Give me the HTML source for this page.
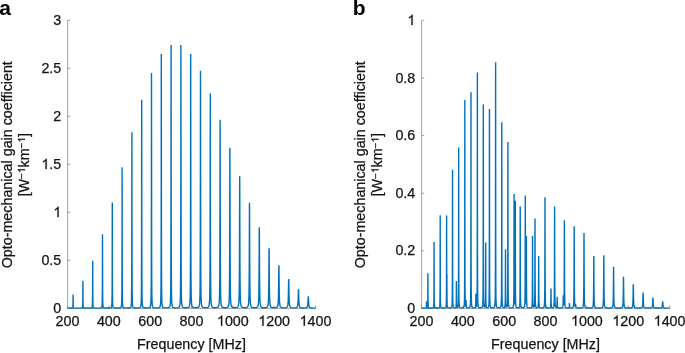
<!DOCTYPE html>
<html><head><meta charset="utf-8"><title>Opto-mechanical gain coefficient</title>
<style>
html,body{margin:0;padding:0;background:#fff;}
body{width:685px;height:353px;overflow:hidden;font-family:"Liberation Sans",sans-serif;}
svg{display:block;will-change:transform;}
svg text{font-family:"Liberation Sans",sans-serif;font-size:14.3px;fill:#141414;stroke:#141414;stroke-width:0.25px;}
svg text.pl{font-weight:bold;font-size:21px;fill:#000;stroke:none;}
svg .h{visibility:hidden;}
svg .one{fill:#141414;stroke:#141414;}
</style></head>
<body>
<svg width="685" height="353" viewBox="0 0 685 353">
<rect width="685" height="353" fill="#fff"/>
<text class="pl" x="-0.8" y="14.5">a</text>
<text class="pl" x="352.8" y="14.8">b</text>
<path d="M67.65 20.4V308.4H315.5M67.50 308.4v-3.0M108.83 308.4v-3.0M150.17 308.4v-3.0M191.50 308.4v-3.0M232.83 308.4v-3.0M274.17 308.4v-3.0M315.50 308.4v-3.0M67.65 308.40h2.6M67.65 260.40h2.6M67.65 212.40h2.6M67.65 164.40h2.6M67.65 116.40h2.6M67.65 68.40h2.6M67.65 20.40h2.6" fill="none" stroke="#8a8a8a" stroke-width="0.8"/>
<text id="t1" x="67.50" y="325.7" text-anchor="middle">200</text>
<text id="t2" x="108.83" y="325.7" text-anchor="middle">400</text>
<text id="t3" x="150.17" y="325.7" text-anchor="middle">600</text>
<text id="t4" x="191.50" y="325.7" text-anchor="middle">800</text>
<text id="t5" x="232.83" y="325.7" text-anchor="middle"><tspan class="h">1</tspan>000</text>
<text id="t6" x="274.17" y="325.7" text-anchor="middle"><tspan class="h">1</tspan>200</text>
<text id="t7" x="315.50" y="325.7" text-anchor="middle"><tspan class="h">1</tspan>400</text>
<text id="t8" x="61.30" y="313.00" text-anchor="end">0</text>
<text id="t9" x="61.30" y="265.00" text-anchor="end">0.5</text>
<text id="t10" x="61.30" y="217.00" text-anchor="end"><tspan class="h">1</tspan></text>
<text id="t11" x="61.30" y="169.00" text-anchor="end"><tspan class="h">1</tspan>.5</text>
<text id="t12" x="61.30" y="121.00" text-anchor="end">2</text>
<text id="t13" x="61.30" y="73.00" text-anchor="end">2.5</text>
<text id="t14" x="61.30" y="25.00" text-anchor="end">3</text>
<text id="t15" x="191.50" y="349.1" text-anchor="middle">Frequency [MHz]</text>
<g transform="translate(11.60 164.75) rotate(-90)"><text id="t16" text-anchor="middle">Opto-mechanical gain coefficient</text></g>
<g transform="translate(28.50 164.7) rotate(-90)"><text id="t17" text-anchor="middle">[W<tspan font-size="10.0" dy="-3.5">−<tspan class="h">1</tspan></tspan><tspan dy="3.5">km</tspan><tspan font-size="10.0" dy="-3.5">−<tspan class="h">1</tspan></tspan><tspan dy="3.5">]</tspan></text></g>
<path d="M67.5 308.14L72 308.07L72.25 308.02L72.55 307.86L72.75 307.46L72.88 306.55L72.96 304.78L73 302.81L73.02 301.32L73.06 297.22L73.1 294.49L73.14 297.22L73.18 301.32L73.24 304.78L73.32 306.55L73.45 307.46L73.5 307.62L73.65 307.86L74 308.03L81 308.09L81.6 308.04L82.05 307.9L82.35 307.57L82.5 307.09L82.55 306.78L82.68 304.94L82.76 301.4L82.82 294.45L82.86 286.24L82.9 280.77L82.94 286.24L82.98 294.45L83 297.45L83.04 301.4L83.12 304.94L83.25 306.78L83.45 307.57L83.5 307.66L83.75 307.9L84.2 308.03L91 308.03L91.5 307.92L91.85 307.72L92 307.52L92.15 307.15L92.35 305.77L92.48 302.58L92.5 301.57L92.56 296.43L92.62 284.38L92.66 270.17L92.7 260.72L92.74 270.17L92.78 284.38L92.84 296.43L92.92 302.58L93 304.97L93.05 305.77L93.25 307.15L93.5 307.66L94 307.95L99.5 308.08L100.5 308.01L101.2 307.85L101.5 307.65L101.65 307.47L101.95 306.58L102 306.26L102.15 304.41L102.28 299.38L102.36 289.73L102.42 270.88L102.46 248.78L102.5 234.14L102.54 248.78L102.58 270.88L102.64 289.73L102.72 299.38L102.85 304.41L103 306.26L103.05 306.57L103.35 307.47L103.5 307.65L103.8 307.84L104.5 308L109.5 308.03L110.5 307.91L111 307.71L111.45 307.16L111.5 307.04L111.75 305.86L111.95 302.71L112 300.89L112.08 295.42L112.16 281.46L112.22 254.41L112.26 223L112.3 202.39L112.34 223L112.38 254.41L112.44 281.46L112.5 293.13L112.52 295.42L112.65 302.71L112.85 305.86L113 306.71L113.15 307.16L113.5 307.64L114 307.88L115.5 308.04L119.5 307.97L120.1 307.88L120.5 307.74L120.8 307.55L121 307.33L121.25 306.8L121.5 305.5L121.55 305.01L121.75 300.7L121.88 290.74L121.96 271.79L122 251.05L122.02 235.5L122.06 194.06L122.1 167.27L122.14 194.06L122.18 235.5L122.24 271.79L122.32 290.74L122.45 300.69L122.5 302.36L122.65 305.01L122.95 306.8L123 306.94L123.4 307.55L124.1 307.87L127.5 308.03L129 307.95L130 307.76L130.5 307.47L130.6 307.37L131 306.58L131.05 306.39L131.35 304.07L131.5 300.62L131.55 298.45L131.68 285.57L131.76 261.28L131.82 215.55L131.86 164.6L131.9 132.35L131.94 164.6L131.98 215.55L132 235.02L132.04 261.28L132.12 285.57L132.25 298.45L132.45 304.06L132.5 304.7L132.75 306.39L133 307.07L133.2 307.36L133.5 307.61L134 307.81L135.5 307.99L138.7 307.92L139.7 307.7L140 307.55L140.4 307.17L140.5 307.01L140.85 305.94L141 304.93L141.15 303.01L141.35 295.98L141.48 279.93L141.5 274.96L141.56 250.07L141.62 195.21L141.66 136.05L141.7 99.64L141.74 136.05L141.78 195.21L141.84 250.07L141.92 279.93L142 291.94L142.05 295.98L142.25 303.01L142.5 305.66L142.55 305.93L143 307.16L143.5 307.6L144 307.79L145.5 307.96L148 307.92L149 307.78L149.5 307.61L150 307.24L150.2 306.96L150.5 306.18L150.65 305.46L150.95 301.91L151 300.65L151.15 293.39L151.28 274.14L151.36 238.93L151.42 176.26L151.46 111.48L151.5 72.96L151.54 111.48L151.58 176.26L151.64 238.93L151.72 274.14L151.85 293.39L152 300.65L152.05 301.9L152.35 305.45L152.5 306.18L152.8 306.95L153 307.23L153.5 307.6L154 307.76L155.5 307.92L157.5 307.9L158.5 307.78L159 307.64L159.5 307.37L160 306.73L160.45 304.96L160.5 304.56L160.75 300.75L160.95 290.72L161 285.02L161.08 268.3L161.16 228.23L161.22 159.7L161.26 92.39L161.3 53.96L161.34 92.39L161.38 159.7L161.44 228.23L161.5 261.48L161.52 268.3L161.65 290.72L161.85 300.75L162 303.5L162.15 304.95L162.5 306.5L162.6 306.73L163 307.28L163.5 307.59L164.5 307.82L167 307.88L168.1 307.76L168.5 307.67L169.1 307.4L169.5 307.03L169.8 306.51L170 305.9L170.25 304.46L170.5 300.92L170.55 299.6L170.75 288.11L170.88 262.82L170.96 218.87L171 176.16L171.02 147.3L171.06 81.07L171.1 44.93L171.14 81.07L171.18 147.3L171.24 218.87L171.32 262.82L171.45 288.11L171.5 292.51L171.65 299.6L171.95 304.45L172 304.84L172.4 306.5L172.5 306.72L173 307.32L173.5 307.59L174.5 307.8L176.5 307.85L178 307.68L178.5 307.53L179 307.22L179.5 306.53L179.6 306.28L180 304.39L180.05 303.95L180.35 298.47L180.5 290.5L180.55 285.58L180.68 257.75L180.76 211.07L180.82 139.32L180.86 77.21L180.9 44.92L180.94 77.21L180.98 139.32L181 167.65L181.04 211.07L181.12 257.75L181.25 285.58L181.45 298.46L181.5 299.95L181.75 303.95L182 305.58L182.2 306.28L182.5 306.87L183 307.36L183.5 307.59L184.5 307.78L186.5 307.81L187.7 307.65L188 307.57L188.5 307.35L188.7 307.2L189 306.88L189.4 306.07L189.5 305.73L189.85 303.48L190 301.37L190.15 297.41L190.35 283.29L190.48 253.53L190.5 244.93L190.56 205.7L190.62 136.86L190.66 81.44L190.7 54.02L190.74 81.44L190.78 136.86L190.84 205.7L190.92 253.53L191 275.5L191.05 283.29L191.25 297.4L191.5 302.9L191.55 303.48L192 306.07L192.5 307L192.7 307.19L193 307.39L193.7 307.64L195 307.79L196.5 307.76L197.5 307.61L198 307.44L198.5 307.11L199 306.41L199.2 305.88L199.5 304.41L199.65 303.05L199.95 296.47L200 294.19L200.15 281.39L200.28 250.49L200.36 203.27L200.42 140.13L200.46 93L200.5 70.8L200.54 93L200.58 140.13L200.64 203.27L200.72 250.49L200.85 281.39L201 294.18L201.05 296.47L201.35 303.05L201.5 304.41L201.8 305.87L202 306.4L202.5 307.11L203 307.43L203.5 307.6L204.5 307.74L206 307.75L207.5 307.51L208 307.27L208.3 307.04L208.5 306.81L209 305.72L209.45 302.7L209.5 302.03L209.75 295.73L209.95 280L210 271.6L210.08 248.91L210.16 204.08L210.22 148.71L210.26 110.44L210.3 93.24L210.34 110.44L210.38 148.71L210.44 204.08L210.5 240.4L210.52 248.91L210.65 280L210.85 295.72L211 300.26L211.15 302.7L211.5 305.32L211.6 305.71L212 306.66L212.3 307.03L212.5 307.2L213 307.46L213.5 307.61L215 307.75L216.5 307.66L217.1 307.54L217.5 307.39L218.1 306.98L218.5 306.41L218.8 305.6L219 304.66L219.25 302.46L219.5 297.18L219.55 295.26L219.75 279.36L219.88 249.19L219.96 208.46L220 178.6L220.02 162.2L220.06 132.56L220.1 119.8L220.14 132.56L220.18 162.2L220.24 208.46L220.32 249.19L220.45 279.36L220.5 285.26L220.65 295.26L220.95 302.46L221 303.04L221.4 305.6L221.5 305.93L222 306.87L222.5 307.29L223.1 307.53L224 307.69L225.5 307.72L226.5 307.62L227 307.49L227.5 307.27L228 306.84L228.5 305.88L228.6 305.54L229 302.94L229.05 302.35L229.35 295.11L229.5 285.24L229.55 279.51L229.68 251.33L229.76 215.95L229.82 179.08L229.86 157.09L229.9 148L229.94 157.09L229.98 179.08L230 191.77L230.04 215.95L230.12 251.33L230.25 279.51L230.45 295.11L230.5 297.03L230.75 302.35L231 304.58L231.2 305.54L231.5 306.37L231.9 306.95L232.5 307.37L233 307.55L234 307.7L235.5 307.71L236.7 307.52L237 307.42L237.5 307.14L237.7 306.96L238 306.56L238.4 305.55L238.5 305.13L238.85 302.4L239 299.89L239.15 295.34L239.35 280.59L239.48 255.37L239.5 249.25L239.56 226.12L239.62 198.12L239.66 182.53L239.7 176.3L239.74 182.53L239.78 198.12L239.84 226.12L239.92 255.37L240 273.29L240.05 280.59L240.25 295.34L240.5 301.71L240.55 302.4L241 305.55L241.5 306.72L241.7 306.96L242 307.21L242.7 307.52L243.5 307.68L245 307.73L246 307.64L246.5 307.54L247 307.35L247.5 306.99L248 306.22L248.2 305.63L248.5 304.05L248.65 302.61L248.95 295.95L249 293.76L249.15 282.51L249.28 260.93L249.36 237.89L249.42 217.61L249.46 206.99L249.5 202.87L249.54 206.99L249.58 217.61L249.64 237.89L249.72 260.93L249.85 282.51L250 293.76L250.05 295.95L250.35 302.61L250.5 304.05L250.8 305.64L251 306.22L251.5 307L252 307.35L252.5 307.54L253.5 307.72L255 307.74L256.5 307.51L257 307.29L257.3 307.06L257.5 306.84L258 305.8L258.45 303.01L258.5 302.41L258.75 296.99L258.95 285.34L259 279.99L259.08 267.88L259.16 250.76L259.22 236.84L259.26 229.94L259.3 227.33L259.34 229.94L259.38 236.84L259.44 250.76L259.5 264.05L259.52 267.88L259.65 285.34L259.85 297L260 300.84L260.15 303.01L260.5 305.43L260.6 305.81L261 306.71L261.3 307.07L261.5 307.23L262 307.49L263 307.72L264.5 307.79L265.5 307.72L266.1 307.62L266.5 307.51L267.1 307.17L267.5 306.7L267.8 306.04L268 305.28L268.25 303.56L268.5 299.69L268.55 298.36L268.75 288.73L268.88 275.36L268.96 263.31L269 257.05L269.02 254.23L269.06 249.94L269.1 248.35L269.14 249.94L269.18 254.23L269.24 263.32L269.32 275.36L269.45 288.73L269.5 292.05L269.65 298.36L269.95 303.57L270 304.02L270.4 306.04L270.5 306.31L271 307.09L271.5 307.43L272.1 307.64L273.5 307.81L275 307.8L276 307.67L276.5 307.51L277 307.21L277.5 306.54L277.6 306.31L278 304.58L278.05 304.2L278.35 299.88L278.5 294.85L278.55 292.3L278.68 282.57L278.76 274.52L278.82 268.84L278.86 266.27L278.9 265.34L278.94 266.27L278.98 268.85L279 270.58L279.04 274.52L279.12 282.57L279.25 292.3L279.45 299.88L279.5 300.97L279.75 304.21L280 305.67L280.2 306.32L280.5 306.89L281 307.37L281.5 307.6L282.5 307.8L284.5 307.87L286 307.7L286.7 307.44L287 307.21L287.4 306.64L287.5 306.4L287.85 304.94L288 303.68L288.15 301.57L288.35 295.99L288.48 289.4L288.56 284.38L288.62 281.05L288.66 279.59L288.7 279.07L288.74 279.59L288.78 281.05L288.84 284.38L288.92 289.41L289 293.78L289.05 295.99L289.25 301.57L289.5 304.59L289.55 304.94L290 306.65L290.5 307.31L291 307.6L292 307.83L294.5 307.91L295.5 307.84L296 307.75L296.5 307.58L297 307.23L297.2 306.96L297.5 306.27L297.65 305.66L297.95 303.18L298 302.46L298.15 299.32L298.28 295.14L298.36 292.18L298.42 290.32L298.46 289.53L298.5 289.25L298.54 289.53L298.58 290.32L298.64 292.18L298.72 295.14L298.85 299.33L299 302.46L299.05 303.18L299.35 305.67L299.5 306.28L299.8 306.97L300 307.24L300.5 307.6L301 307.77L302.5 307.95L305.5 307.9L306.3 307.73L306.5 307.65L307 307.27L307.45 306.33L307.5 306.15L307.75 304.62L307.95 302.12L308 301.24L308.16 298L308.22 297.02L308.26 296.61L308.3 296.47L308.34 296.61L308.38 297.02L308.44 298L308.52 299.64L308.65 302.13L308.85 304.62L309 305.68L309.15 306.34L309.5 307.15L309.6 307.29L310 307.62L310.5 307.82L312 308.01L315.5 308.1" fill="none" stroke="#0072BD" stroke-width="1.4" stroke-linejoin="bevel"/>
<path d="M421.65 20.4V308.4H669.6M421.50 308.4v-3.0M462.85 308.4v-3.0M504.20 308.4v-3.0M545.55 308.4v-3.0M586.90 308.4v-3.0M628.25 308.4v-3.0M669.60 308.4v-3.0M421.65 308.40h2.6M421.65 250.80h2.6M421.65 193.20h2.6M421.65 135.60h2.6M421.65 78.00h2.6M421.65 20.40h2.6" fill="none" stroke="#8a8a8a" stroke-width="0.8"/>
<text id="t18" x="421.50" y="325.7" text-anchor="middle">200</text>
<text id="t19" x="462.85" y="325.7" text-anchor="middle">400</text>
<text id="t20" x="504.20" y="325.7" text-anchor="middle">600</text>
<text id="t21" x="545.55" y="325.7" text-anchor="middle">800</text>
<text id="t22" x="586.90" y="325.7" text-anchor="middle"><tspan class="h">1</tspan>000</text>
<text id="t23" x="628.25" y="325.7" text-anchor="middle"><tspan class="h">1</tspan>200</text>
<text id="t24" x="669.60" y="325.7" text-anchor="middle"><tspan class="h">1</tspan>400</text>
<text id="t25" x="415.30" y="313.00" text-anchor="end">0</text>
<text id="t26" x="415.30" y="255.40" text-anchor="end">0.2</text>
<text id="t27" x="415.30" y="197.80" text-anchor="end">0.4</text>
<text id="t28" x="415.30" y="140.20" text-anchor="end">0.6</text>
<text id="t29" x="415.30" y="82.60" text-anchor="end">0.8</text>
<text id="t30" x="415.30" y="25.00" text-anchor="end"><tspan class="h">1</tspan></text>
<text id="t31" x="545.55" y="349.1" text-anchor="middle">Frequency [MHz]</text>
<g transform="translate(365.10 164.75) rotate(-90)"><text id="t32" text-anchor="middle">Opto-mechanical gain coefficient</text></g>
<g transform="translate(382.00 164.7) rotate(-90)"><text id="t33" text-anchor="middle">[W<tspan font-size="10.0" dy="-3.5">−<tspan class="h">1</tspan></tspan><tspan dy="3.5">km</tspan><tspan font-size="10.0" dy="-3.5">−<tspan class="h">1</tspan></tspan><tspan dy="3.5">]</tspan></text></g>
<path d="M421.5 308.13L425.65 308.06L426 307.96L426.15 307.82L426.28 307.44L426.36 306.69L426.42 305.09L426.46 302.89L426.5 301.2L426.54 302.88L426.58 305.07L426.6 305.78L426.64 306.66L426.72 307.38L426.85 307.72L427.05 307.79L427.35 307.53L427.5 307.07L427.55 306.76L427.68 304.91L427.76 301.16L427.8 296.68L427.82 293.04L427.86 281.91L427.9 273.36L427.94 281.91L427.98 293.04L428 296.68L428.04 301.16L428.12 304.92L428.25 306.78L428.45 307.56L428.5 307.65L428.75 307.89L429.2 308.02L432.06 308.04L432.75 307.93L433 307.83L433.2 307.68L433.5 307.07L433.7 305.57L433.83 302.04L433.92 294.89L433.98 279.43L434 267.22L434.01 258.26L434.06 242L434.1 258.26L434.13 279.43L434.19 294.88L434.27 302.03L434.4 305.57L434.5 306.52L434.61 307.06L434.9 307.67L435.2 307.86L436.15 308L436.28 307.96L436.36 307.88L436.42 307.69L436.5 307.24L436.58 307.7L436.64 307.89L436.72 307.97L438.21 307.99L439 307.8L439.36 307.48L439.5 307.21L439.66 306.63L439.86 304.53L439.99 299.55L440 298.8L440.07 289.49L440.13 267.77L440.17 238.04L440.21 215.23L440.25 238.04L440.29 267.77L440.35 289.49L440.43 299.55L440.5 302.98L440.56 304.53L440.76 306.62L441 307.38L441.06 307.48L441.51 307.83L442.5 308L444.62 307.96L445.31 307.78L445.6 307.58L445.76 307.38L446 306.76L446.06 306.44L446.26 304.24L446.35 301.68L446.39 299.15L446.48 289.07L446.5 282.56L446.54 267.52L446.55 258.04L446.57 238.21L446.62 215.6L446.65 237.32L446.68 256.51L446.69 265.55L446.75 284.42L446.76 285.11L446.82 286.17L446.83 284.37L446.86 279.73L446.9 274.47L446.94 282.57L446.96 289.26L446.98 292.47L447 295.77L447.04 299.96L447.12 303.74L447.17 304.77L447.25 305.89L447.45 307L447.5 307.14L447.75 307.55L448 307.74L448.62 307.91L450 307.95L450.52 307.9L451 307.78L451.22 307.67L451.5 307.42L451.67 307.14L451.97 305.85L452 305.59L452.17 302.69L452.3 295.21L452.38 280.11L452.44 247.64L452.48 203.45L452.5 180.05L452.52 169.73L452.56 203.45L452.6 247.63L452.66 280.11L452.74 295.2L452.87 302.69L453 305.16L453.07 305.84L453.37 307.12L453.5 307.36L453.82 307.65L454.52 307.86L455.1 307.87L455.55 307.77L455.68 307.7L455.85 307.51L456 307.13L456.05 306.88L456.18 305.41L456.26 302.44L456.32 296.09L456.36 287.48L456.4 280.92L456.44 287.47L456.48 296.07L456.5 298.91L456.54 302.41L456.62 305.35L456.68 306.2L456.75 306.8L456.95 307.36L457 307.42L457.25 307.5L457.5 307.39L457.7 307.16L457.82 306.91L458 306.28L458.12 305.42L458.32 301.73L458.4 298.07L458.45 292.98L458.5 285.47L458.54 275.36L458.6 237.55L458.63 186.38L458.68 147.55L458.71 186.38L458.75 237.55L458.81 275.36L458.89 292.99L459 300.78L459.02 301.75L459.23 305.44L459.4 306.54L459.52 306.95L460 307.6L460.68 307.84L462 307.9L463.1 307.7L463.53 307.44L463.98 306.61L464.1 306.1L464.28 304.62L464.48 299.77L464.5 298.78L464.61 288.3L464.69 265.24L464.75 216.01L464.79 149.88L464.8 131.36L464.83 100.07L464.87 149.87L464.91 216L464.97 265.23L465 276.94L465.05 288.28L465.18 299.74L465.25 302.19L465.38 304.56L465.5 305.63L465.55 305.92L465.68 306.4L465.75 306.53L465.88 306.4L465.96 305.7L466 304.79L466.02 304.03L466.06 301.72L466.1 299.99L466.13 301.13L466.14 301.8L466.18 304.19L466.24 305.99L466.32 306.87L466.45 307.35L466.65 307.6L467 307.76L468.1 307.86L469.1 307.73L469.5 307.54L469.69 307.39L470 306.91L470.13 306.52L470.44 304.43L470.5 303.42L470.63 299.32L470.76 287.23L470.85 263.02L470.9 211.65L470.94 143.29L470.99 92.31L471 101.3L471.02 143.29L471.06 211.65L471.12 263.02L471.2 287.23L471.33 299.32L471.5 303.93L471.54 304.43L471.83 306.52L472 306.97L472.29 307.39L472.5 307.56L473 307.75L474 307.85L474.6 307.81L475.05 307.7L475.39 307.46L475.5 307.26L475.55 307.11L475.68 306.27L475.76 304.67L475.82 301.34L475.86 296.97L475.9 293.74L475.94 296.91L475.98 301.22L476 302.67L476.04 304.46L476.09 305.57L476.12 305.93L476.25 306.53L476.45 306.42L476.54 306.17L476.75 304.95L476.84 303.92L477 300.07L477.04 298.24L477.17 284.79L477.2 277.89L477.25 257.93L477.31 201.38L477.35 127.11L477.39 72.42L477.43 127.12L477.47 201.39L477.5 236.34L477.53 257.94L477.61 284.81L477.74 298.28L477.9 303.34L477.94 303.98L478 304.73L478.24 306.32L478.5 307.02L478.69 307.29L479 307.54L479.5 307.73L480.5 307.81L481.5 307.66L482 307.35L482.44 306.49L482.5 306.28L482.7 304.93L482.75 304.42L482.94 299.36L483 296.05L483.07 287.47L483.15 263.85L483.21 214.61L483.25 150.88L483.3 104.61L483.33 150.88L483.38 214.61L483.44 263.84L483.5 284.69L483.51 287.45L483.64 299.33L483.7 301.44L483.85 304.36L484 305.72L484.14 306.38L484.4 306.93L484.6 307.1L484.85 307.09L485 306.93L485.15 306.55L485.3 305.63L485.35 304.96L485.48 301.13L485.5 299.91L485.56 293.51L485.62 277.65L485.66 257.27L485.7 242.57L485.74 257.28L485.78 277.67L485.84 293.54L485.92 301.19L486 304.09L486.05 305.05L486.25 306.69L486.3 306.86L486.45 307.23L486.55 307.36L487 307.61L487.5 307.62L488 307.44L488.15 307.32L488.5 306.77L488.6 306.47L488.7 306.04L488.9 304.39L489 302.64L489.1 299.29L489.23 287.33L489.31 263.7L489.37 215L489.41 153.11L489.45 108.96L489.49 153.11L489.5 170.29L489.53 215L489.59 263.7L489.67 287.33L489.8 299.3L490 304.4L490.3 306.49L490.5 307.01L490.75 307.36L491 307.55L491.5 307.74L492.61 307.82L493.61 307.67L494 307.48L494.31 307.2L494.5 306.87L494.75 306.08L495 304.19L495.06 303.4L495.25 296.88L495.38 281.61L495.46 251.68L495.5 223.01L495.52 190.87L495.56 115.23L495.61 62.37L495.64 115.23L495.69 190.87L495.75 251.68L495.82 281.61L495.95 296.88L496 299.19L496.15 303.4L496.45 306.08L496.5 306.27L496.9 307.19L497 307.3L497.61 307.67L499 307.82L499.76 307.72L500 307.64L500.5 307.31L500.91 306.47L501 306.08L501.21 304.35L501.41 299.21L501.5 292.64L501.54 287.21L501.62 263.9L501.68 217.31L501.72 160.79L501.76 122.2L501.8 160.79L501.84 217.31L501.9 263.89L501.98 287.21L502 290.21L502.11 299.2L502.31 304.34L502.5 305.96L502.61 306.45L503 307.25L503.5 307.57L504 307.63L504.2 307.61L504.5 307.48L504.65 307.35L504.76 307.19L504.92 306.8L505 306.42L505.15 304.99L505.28 301.1L505.36 293.6L505.42 278.77L505.46 261.09L505.5 249.19L505.54 261.08L505.58 278.75L505.64 293.56L505.72 301.05L505.85 304.91L505.92 305.69L506 306.3L506.05 306.53L506.35 307.1L506.5 307.14L506.62 307.12L506.8 306.97L507 306.62L507.06 306.44L507.37 304.49L507.5 301.99L507.56 299.7L507.69 288.53L507.77 267.02L507.83 224.85L507.88 175.12L507.92 142.02L507.95 175.12L508 224.86L508 229.89L508.06 267.03L508.13 288.55L508.26 299.74L508.46 304.56L508.5 304.95L508.76 306.55L509 307.12L509.21 307.39L509.5 307.59L510 307.76L511.07 307.86L512.07 307.77L512.5 307.64L512.77 307.48L513 307.24L513.22 306.83L513.3 306.58L513.5 305.5L513.52 305.33L513.72 301.79L513.85 293.72L513.93 278.41L513.99 249.11L514 241.6L514.03 215.64L514.07 193.98L514.11 215.58L514.15 248.98L514.21 278.18L514.29 293.35L514.42 301.15L514.45 301.94L514.5 302.9L514.62 304L514.75 304.04L514.92 302.15L514.95 301.39L515 299.59L515.08 294.02L515.16 279.68L515.22 252.19L515.26 220.94L515.3 200.86L515.34 221.01L515.37 245.27L515.38 252.32L515.44 279.91L515.5 292.01L515.52 294.4L515.65 302.07L515.85 305.43L516 306.36L516.07 306.63L516.15 306.86L516.5 307.4L517.07 307.7L517.5 307.77L518.5 307.73L519 307.51L519.38 307L519.5 306.63L519.67 305.64L519.88 302.35L520 295.31L520 294.8L520.09 280.62L520.14 254.12L520.18 224.87L520.23 206.5L520.26 224.87L520.3 254.12L520.37 280.62L520.45 294.8L520.5 299.14L520.58 302.35L520.77 305.64L521 306.8L521.08 307L521.52 307.57L522 307.75L522.5 307.8L523.5 307.69L524 307.44L524.38 306.91L524.5 306.57L524.75 305.08L524.95 301.18L525 298.97L525.08 292.4L525.16 276.15L525.22 246.52L525.26 214.83L525.3 195.43L525.34 214.76L525.38 246.38L525.44 275.9L525.5 289.31L525.52 291.99L525.53 293.11L525.65 300.44L525.83 303.3L525.85 303.38L526 302.7L526.03 302.23L526.15 297.76L526.16 297.06L526.24 286.87L526.3 268.13L526.34 248.16L526.38 236.04L526.42 248.27L526.46 268.35L526.5 282.49L526.52 287.26L526.6 297.7L526.73 303.4L526.93 305.96L527 306.36L527.23 307.08L527.5 307.45L527.68 307.59L528 307.73L528.5 307.85L530 307.9L530.53 307.86L531 307.75L531.24 307.65L531.5 307.45L531.68 307.17L531.99 306.05L532 305.94L532.18 303.38L532.32 297.36L532.39 286.44L532.46 267.21L532.5 247.61L532.5 245.25L532.53 236.07L532.58 247.6L532.62 267.2L532.67 286.42L532.75 297.32L532.88 303.31L533 305.2L533.09 305.93L533.38 306.96L533.5 307.09L533.7 307.18L533.84 307.16L534 307.03L534.15 306.79L534.45 305.42L534.5 304.93L534.53 304.48L534.65 302.04L534.78 294.4L534.86 280.59L534.92 256.58L534.96 232.5L535 218.54L535.04 232.51L535.08 256.59L535.14 280.6L535.22 294.43L535.35 302.09L535.5 305L535.55 305.5L535.69 306.39L535.85 306.93L536 307.22L536.3 307.52L536.69 307.68L537 307.71L537.5 307.62L537.84 307.33L538 307.02L538.14 306.48L538.34 304.42L538.47 299.79L538.5 297.56L538.55 291.54L538.61 277.5L538.65 263.79L538.69 256L538.73 263.79L538.77 277.51L538.83 291.55L538.91 299.81L539 303.54L539.04 304.44L539.24 306.51L539.5 307.32L540 307.76L540.69 307.91L542 307.93L543 307.8L543.5 307.59L543.7 307.44L544 307L544.15 306.59L544.45 304.57L544.5 303.86L544.65 299.79L544.78 289.25L544.86 270.88L544.92 240.79L544.96 212.74L545 197.37L545.04 212.74L545.08 240.79L545.14 270.88L545.22 289.25L545.35 299.79L545.5 303.86L545.55 304.57L545.85 306.59L546 307L546.3 307.44L546.5 307.6L547 307.81L548 307.94L549.7 307.9L550.15 307.73L550.45 307.34L550.5 307.2L550.65 306.42L550.78 304.44L550.86 301.06L550.92 295.74L550.96 291L551 288.49L551.04 291L551.08 295.73L551.14 301.04L551.22 304.42L551.35 306.39L551.5 307.16L551.6 307.39L551.85 307.65L552.3 307.75L552.6 307.72L553 307.59L553.3 307.37L553.5 307.11L553.75 306.48L554 304.94L554.05 304.36L554.15 302.51L554.25 299.38L554.38 288.63L554.46 270.61L554.5 253.86L554.52 242.93L554.56 218.99L554.6 206.55L554.64 218.99L554.68 242.93L554.74 270.61L554.82 288.63L554.95 299.38L555 301.28L555.15 304.35L555.45 306.46L555.5 306.63L555.86 307.28L556 307.4L556.3 307.51L556.5 307.47L556.61 307.38L556.8 306.86L556.93 305.67L557 304.19L557.01 303.67L557.08 300.64L557.12 298.07L557.15 296.75L557.2 298.08L557.24 300.66L557.29 303.71L557.38 305.73L557.5 306.96L557.6 307.33L557.71 307.54L558 307.8L558.5 307.93L560.5 307.98L561.5 307.9L562.01 307.8L562.5 307.54L562.76 307.17L562.96 306.39L563 306.09L563.09 304.91L563.1 304.71L563.17 302.61L563.23 299.35L563.27 296.72L563.31 295.38L563.35 296.58L563.39 299.06L563.45 302.1L563.5 303.53L563.53 304.06L563.55 304.31L563.66 304.86L563.85 303.87L563.86 303.75L564 301L564.05 299.16L564.16 291.32L564.18 288.86L564.26 272.28L564.32 248.56L564.36 229.6L564.4 220.27L564.44 229.62L564.48 248.6L564.5 257.73L564.54 272.35L564.61 287.54L564.62 288.97L564.75 299.37L564.95 304.32L565 304.89L565.25 306.46L565.31 306.66L565.5 307.1L565.7 307.38L566 307.62L566.5 307.81L567.5 307.94L568.62 307.91L568.91 307.79L569 307.71L569.12 307.5L569.25 306.9L569.33 305.95L569.38 304.66L569.42 303.66L569.47 303.19L569.5 303.56L569.54 304.66L569.61 305.95L569.68 306.89L569.82 307.5L570.01 307.79L570.32 307.9L571.5 307.9L572.2 307.76L572.62 307.57L572.9 307.33L573 307.2L573.35 306.33L573.5 305.52L573.62 304.4L573.65 304L573.85 298.69L573.98 287.85L574 284.81L574.06 271.42L574.12 249.69L574.16 233.64L574.2 226.13L574.24 233.63L574.28 249.68L574.32 265.11L574.34 271.41L574.42 287.83L574.5 295.78L574.55 298.66L574.75 303.95L574.77 304.21L575 305.98L575.07 306.25L575.27 306.58L575.4 306.36L575.48 305.78L575.5 305.54L575.58 304.34L575.62 304.07L575.66 304.41L575.7 305.09L575.76 306.03L575.84 306.77L575.97 307.29L576.2 307.62L576.5 307.78L577.62 307.97L580.5 307.98L581.5 307.87L582 307.75L582.5 307.48L582.7 307.28L583 306.71L583.15 306.19L583.45 303.7L583.5 302.84L583.65 298.08L583.78 287.04L583.86 271.28L583.92 252.06L583.96 238.93L584 233.07L584.04 238.93L584.08 252.06L584.14 271.28L584.22 287.04L584.35 298.08L584.5 302.84L584.55 303.7L584.85 306.2L585 306.72L585.3 307.28L585.5 307.48L586 307.75L587 307.94L591 307.95L592 307.74L592.5 307.42L592.95 306.53L593 306.33L593.25 304.49L593.45 300L593.5 297.66L593.58 291.54L593.66 280.24L593.72 267.56L593.76 259.52L593.8 256.09L593.84 259.52L593.88 267.56L593.94 280.24L594 289.32L594.02 291.54L594.15 300L594.35 304.49L594.5 305.81L594.65 306.53L595 307.3L595.1 307.42L595.5 307.7L596 307.86L599 308.02L601 307.92L601.8 307.75L602 307.67L602.5 307.27L602.95 306.18L603 305.95L603.25 303.73L603.45 298.47L603.5 295.8L603.58 289.04L603.66 277.33L603.72 265.27L603.76 258.15L603.8 255.23L603.84 258.15L603.88 265.27L603.94 277.33L604 286.66L604.02 289.04L604.15 298.47L604.35 303.73L604.5 305.32L604.65 306.18L605 307.12L605.1 307.27L605.5 307.61L606 307.81L607.5 307.99L610.6 307.95L611.6 307.77L612 307.58L612.3 307.32L612.5 307.01L612.75 306.31L613 304.64L613.05 304.05L613.25 299.35L613.38 291.36L613.46 282.18L613.52 273.47L613.56 268.65L613.6 266.74L613.64 268.65L613.68 273.47L613.74 282.18L613.82 291.36L613.95 299.35L614 301.05L614.15 304.05L614.45 306.31L614.5 306.49L614.9 307.32L615 307.43L615.6 307.77L616.6 307.95L620 307.99L621 307.91L621.5 307.8L622 307.56L622.2 307.39L622.5 306.91L622.65 306.47L622.95 304.45L623 303.79L623.15 300.4L623.28 293.92L623.36 287.04L623.42 281.02L623.46 277.88L623.5 276.67L623.54 277.88L623.58 281.02L623.64 287.04L623.72 293.92L623.85 300.4L624 303.79L624.05 304.45L624.35 306.47L624.5 306.91L624.8 307.39L625 307.56L625.5 307.8L626.5 307.97L630.5 307.96L631.5 307.76L632 307.45L632.45 306.63L632.5 306.45L632.75 304.85L632.95 301.4L633 299.82L633.08 296.24L633.16 291.19L633.22 287.09L633.26 285.06L633.3 284.3L633.34 285.06L633.38 287.09L633.44 291.19L633.5 295.11L633.52 296.24L633.65 301.4L633.85 304.85L634 305.99L634.15 306.63L634.5 307.35L634.6 307.46L635 307.73L635.5 307.88L639.5 308.04L641.1 307.89L641.5 307.77L641.8 307.6L642 307.41L642.25 306.97L642.5 305.97L642.55 305.63L642.75 303.14L642.88 299.68L642.96 296.55L643 294.92L643.02 294.18L643.06 293.06L643.1 292.64L643.14 293.06L643.18 294.18L643.32 299.68L643.45 303.14L643.5 304L643.65 305.63L643.95 306.97L644 307.09L644.4 307.61L645.1 307.9L650 308.03L651 307.92L651.6 307.7L652 307.28L652.05 307.19L652.35 306.14L652.5 304.9L652.55 304.27L652.68 301.87L652.76 299.86L652.82 298.43L652.86 297.78L652.9 297.54L652.94 297.78L652.98 298.43L653 298.86L653.12 301.87L653.25 304.28L653.45 306.14L653.5 306.4L653.75 307.19L654 307.55L654.2 307.71L654.5 307.85L655.5 308.02L660 308.05L661 307.94L661.5 307.77L661.85 307.45L662 307.17L662.15 306.7L662.35 305.46L662.48 303.97L662.56 302.81L662.62 302.04L662.66 301.7L662.7 301.58L662.74 301.7L662.78 302.04L662.84 302.81L662.92 303.97L663 304.96L663.05 305.46L663.25 306.71L663.5 307.37L663.55 307.45L664 307.83L664.7 308L669.5 308.13" fill="none" stroke="#0072BD" stroke-width="1.4" stroke-linejoin="bevel"/>
<path class="one" d="M763 0H583V1147Q518 1085 412.5 1023Q307 961 223 930V1104Q374 1175 487 1276Q600 1377 647 1472H763Z" stroke-width="35.8" transform="translate(216.92 325.70) scale(0.00698 -0.00698)"/>
<path class="one" d="M763 0H583V1147Q518 1085 412.5 1023Q307 961 223 930V1104Q374 1175 487 1276Q600 1377 647 1472H763Z" stroke-width="35.8" transform="translate(258.26 325.70) scale(0.00698 -0.00698)"/>
<path class="one" d="M763 0H583V1147Q518 1085 412.5 1023Q307 961 223 930V1104Q374 1175 487 1276Q600 1377 647 1472H763Z" stroke-width="35.8" transform="translate(299.59 325.70) scale(0.00698 -0.00698)"/>
<path class="one" d="M763 0H583V1147Q518 1085 412.5 1023Q307 961 223 930V1104Q374 1175 487 1276Q600 1377 647 1472H763Z" stroke-width="35.8" transform="translate(53.35 217.00) scale(0.00698 -0.00698)"/>
<path class="one" d="M763 0H583V1147Q518 1085 412.5 1023Q307 961 223 930V1104Q374 1175 487 1276Q600 1377 647 1472H763Z" stroke-width="35.8" transform="translate(41.41 169.00) scale(0.00698 -0.00698)"/>
<g transform="translate(28.50 164.7) rotate(-90)"><path class="one" d="M763 0H583V1147Q518 1085 412.5 1023Q307 961 223 930V1104Q374 1175 487 1276Q600 1377 647 1472H763Z" stroke-width="51.2" transform="translate(-8.35 -3.50) scale(0.00488 -0.00488)"/></g>
<g transform="translate(28.50 164.7) rotate(-90)"><path class="one" d="M763 0H583V1147Q518 1085 412.5 1023Q307 961 223 930V1104Q374 1175 487 1276Q600 1377 647 1472H763Z" stroke-width="51.2" transform="translate(22.12 -3.50) scale(0.00488 -0.00488)"/></g>
<path class="one" d="M763 0H583V1147Q518 1085 412.5 1023Q307 961 223 930V1104Q374 1175 487 1276Q600 1377 647 1472H763Z" stroke-width="35.8" transform="translate(570.99 325.70) scale(0.00698 -0.00698)"/>
<path class="one" d="M763 0H583V1147Q518 1085 412.5 1023Q307 961 223 930V1104Q374 1175 487 1276Q600 1377 647 1472H763Z" stroke-width="35.8" transform="translate(612.34 325.70) scale(0.00698 -0.00698)"/>
<path class="one" d="M763 0H583V1147Q518 1085 412.5 1023Q307 961 223 930V1104Q374 1175 487 1276Q600 1377 647 1472H763Z" stroke-width="35.8" transform="translate(653.69 325.70) scale(0.00698 -0.00698)"/>
<path class="one" d="M763 0H583V1147Q518 1085 412.5 1023Q307 961 223 930V1104Q374 1175 487 1276Q600 1377 647 1472H763Z" stroke-width="35.8" transform="translate(407.35 25.00) scale(0.00698 -0.00698)"/>
<g transform="translate(382.00 164.7) rotate(-90)"><path class="one" d="M763 0H583V1147Q518 1085 412.5 1023Q307 961 223 930V1104Q374 1175 487 1276Q600 1377 647 1472H763Z" stroke-width="51.2" transform="translate(-8.35 -3.50) scale(0.00488 -0.00488)"/></g>
<g transform="translate(382.00 164.7) rotate(-90)"><path class="one" d="M763 0H583V1147Q518 1085 412.5 1023Q307 961 223 930V1104Q374 1175 487 1276Q600 1377 647 1472H763Z" stroke-width="51.2" transform="translate(22.12 -3.50) scale(0.00488 -0.00488)"/></g>
</svg>
</body></html>
